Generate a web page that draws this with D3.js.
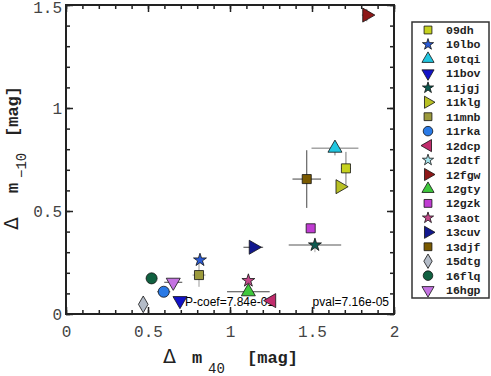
<!DOCTYPE html>
<html lang="en">
<head>
<meta charset="UTF-8">
<title>dm40 vs dm-10</title>
<script src="https://cdn.jsdelivr.net/npm/d3@7"></script>
<style>
  body { margin: 0; background: #fff; }
</style>
</head>
<body>
<svg id="main" width="491" height="376"></svg>
<script>
// data
const names = ["09dh","10lbo","10tqi","11bov","11jgj","11klg","11mnb","11rka","12dcp","12dtf",
               "12fgw","12gty","12gzk","13aot","13cuv","13djf","15dtg","16flq","16hgp"];
const dm40  = [1.707, 0.817, 1.640, 0.695, 1.518, 1.671, 0.811, 0.596, 1.254, null,
               1.834, 1.112, 1.492, 1.112, 1.142, 1.468, 0.471, 0.522, 0.654];
const dm10  = [0.707, 0.262, 0.805, 0.065, 0.335, 0.618, 0.189, 0.108, 0.065, null,
               1.451, 0.108, 0.416, 0.162, 0.324, 0.655, 0.047, 0.173, 0.154];
const dm40err = [0.03, 0, 0.143, 0, 0.16, 0, 0.04, 0.04, 0, null,
                 0.03, 0.13, 0, 0, 0.06, 0.087, 0, 0, 0.055];
const dm10err = [0.08, 0, 0.035, 0, 0.035, 0, 0.057, 0, 0, null,
                 0.03, 0, 0, 0, 0, 0.14, 0, 0, 0];
const pcoefText = "P-coef=7.84e-01";
const pvalText = "pval=7.16e-05";
const xTicks = [0, 0.5, 1, 1.5, 2];
const yTicks = [0, 0.5, 1, 1.5];

// styles
const shapes = ["square","star","up","down","star","right","square","circle","left","star",
                "right","up","square","star","right","square","diamond","circle","down"];
const colors = ["#c6d21e","#2a5bd7","#22c6e0","#1212c8","#0d5a50","#b8c024","#9c9a3c","#2a7ae6","#c02c6c","#a6e4ec",
                "#8e1818","#3ec83c","#c03cd2","#c4488a","#12188e","#7a5a00","#b4bcc8","#106040","#c472e2"];
const errColors = ["#777","#777","#777","#777","#aaa","#777","#999","#555","#555","#777",
                   "#777","#444","#777","#777","#444","#444","#777","#777","#444"];

const svg = d3.select("#main");
const L = 66, R = 394, T = 5, B = 314;
const x = d3.scaleLinear().domain([0, 2]).range([L, R]);
const y = d3.scaleLinear().domain([0, 1.5]).range([B, T]);
const mono = "'Liberation Mono', 'DejaVu Sans Mono', monospace";

function symPath(shape, big) {
  const k = big ? 1 : 0.75;
  if (shape === "square") return d3.symbol(d3.symbolSquare, 82 * k)();
  if (shape === "circle") return d3.symbol(d3.symbolCircle, 96 * k)();
  if (shape === "star") return d3.symbol(d3.symbolStar, 52 * k)();
  if (shape === "diamond") return d3.symbol(d3.symbolDiamond, 80 * k)();
  return d3.symbol(d3.symbolTriangle, 85 * k)();
}
function rot(shape) {
  if (shape === "down") return 180;
  if (shape === "right") return 90;
  if (shape === "left") return -90;
  return 0;
}

// axes, ticks inward on all four sides
const minorX = d3.range(0, 2.001, 0.1), minorY = d3.range(0, 1.501, 0.1);
function styleAxis(g) {
  g.selectAll(".domain").remove();
  g.selectAll("line").attr("stroke", "#222").attr("stroke-width", 1.5);
  g.selectAll("text").attr("font-family", mono).attr("font-size", 16).attr("fill", "#444");
}
svg.append("g").attr("transform", `translate(0,${B})`)
  .call(d3.axisBottom(x).tickValues(minorX).tickSize(-4).tickFormat(""))
  .call(styleAxis);
svg.append("g").attr("transform", `translate(0,${B})`)
  .call(d3.axisBottom(x).tickValues(xTicks).tickSize(-7).tickPadding(12).tickFormat(d3.format("")))
  .call(styleAxis);
svg.append("g").attr("transform", `translate(0,${T})`)
  .call(d3.axisTop(x).tickValues(minorX).tickSize(-4).tickFormat(""))
  .call(styleAxis);
svg.append("g").attr("transform", `translate(0,${T})`)
  .call(d3.axisTop(x).tickValues(xTicks).tickSize(-7).tickFormat(""))
  .call(styleAxis);
svg.append("g").attr("transform", `translate(${L},0)`)
  .call(d3.axisLeft(y).tickValues(minorY).tickSize(-4).tickFormat(""))
  .call(styleAxis);
svg.append("g").attr("transform", `translate(${L},0)`)
  .call(d3.axisLeft(y).tickValues(yTicks).tickSize(-7).tickPadding(4).tickFormat(d3.format("")))
  .call(styleAxis)
  .call(g => g.selectAll(".tick text").filter(d => d === 1.5).attr("dy", "0.45em"));
svg.append("g").attr("transform", `translate(${R},0)`)
  .call(d3.axisRight(y).tickValues(minorY).tickSize(-4).tickFormat(""))
  .call(styleAxis);
svg.append("g").attr("transform", `translate(${R},0)`)
  .call(d3.axisRight(y).tickValues(yTicks).tickSize(-7).tickFormat(""))
  .call(styleAxis);

svg.append("rect").attr("x", L).attr("y", T).attr("width", R - L).attr("height", B - T)
  .attr("fill", "none").attr("stroke", "#222").attr("stroke-width", 2);

// annotations
svg.append("text").attr("x", 185).attr("y", 306).text(pcoefText)
  .attr("font-family", "'Liberation Sans', Arial, sans-serif").attr("font-size", 12).attr("fill", "#000");
svg.append("text").attr("x", 389).attr("y", 306).attr("text-anchor", "end").text(pvalText)
  .attr("font-family", "'Liberation Sans', Arial, sans-serif").attr("font-size", 12).attr("fill", "#000");

// points
const idx = d3.range(names.length).filter(i => dm40[i] !== null);
const pts = svg.append("g");
idx.forEach(i => {
  const cx = x(dm40[i]), cy = y(dm10[i]);
  if (dm40err[i] > 0) {
    pts.append("line").attr("x1", x(dm40[i] - dm40err[i])).attr("x2", x(dm40[i] + dm40err[i]))
      .attr("y1", cy).attr("y2", cy).attr("stroke", errColors[i]).attr("stroke-width", i === 4 ? 1.8 : 1);
  }
  if (dm10err[i] > 0) {
    pts.append("line").attr("y1", y(dm10[i] - dm10err[i])).attr("y2", y(dm10[i] + dm10err[i]))
      .attr("x1", cx).attr("x2", cx).attr("stroke", errColors[i]).attr("stroke-width", 1);
  }
});
idx.forEach(i => {
  pts.append("path").attr("d", symPath(shapes[i], true))
    .attr("transform", `translate(${x(dm40[i])},${y(dm10[i])}) rotate(${rot(shapes[i])})`)
    .attr("fill", colors[i]).attr("stroke", "#111").attr("stroke-width", 0.8);
});

// axis titles
const xl = svg.append("g").attr("transform", "translate(163,363)")
  .attr("font-family", mono).attr("font-weight", "bold").attr("fill", "#222");
xl.append("text").attr("x", 0).attr("font-size", 19).attr("font-family", "'DejaVu Sans', sans-serif").attr("font-weight", "normal").text("Δ");
xl.append("text").attr("x", 29).attr("font-size", 17).text("m");
xl.append("text").attr("x", 45).attr("y", 10).attr("font-size", 14).attr("font-weight", "normal").text("40");
xl.append("text").attr("x", 84).attr("font-size", 17).text("[mag]");

const yl = svg.append("g").attr("transform", "translate(18,230) rotate(-90)")
  .attr("font-family", mono).attr("font-weight", "bold").attr("fill", "#222");
yl.append("text").attr("x", 0).attr("font-size", 19).attr("font-family", "'DejaVu Sans', sans-serif").attr("font-weight", "normal").text("Δ");
yl.append("text").attr("x", 37).attr("font-size", 17).text("m");
yl.append("text").attr("x", 52).attr("y", 8).attr("font-size", 14).attr("font-weight", "normal").text("−10");
yl.append("text").attr("x", 93).attr("font-size", 17).text("[mag]");

// legend
const lg = svg.append("g");
lg.append("rect").attr("x", 412).attr("y", 22).attr("width", 77).attr("height", 276)
  .attr("fill", "#fff").attr("stroke", "#333").attr("stroke-width", 1.5);
names.forEach((n, i) => {
  const ly = 30 + i * 14.45;
  lg.append("path").attr("d", symPath(shapes[i], false))
    .attr("transform", `translate(428,${ly}) rotate(${rot(shapes[i])})`)
    .attr("fill", colors[i]).attr("stroke", "#111").attr("stroke-width", 0.8);
  lg.append("text").attr("x", 446).attr("y", ly + 4).text(n)
    .attr("font-family", mono).attr("font-weight", "bold").attr("font-size", 11.5).attr("fill", "#222");
});
</script>
</body>
</html>
